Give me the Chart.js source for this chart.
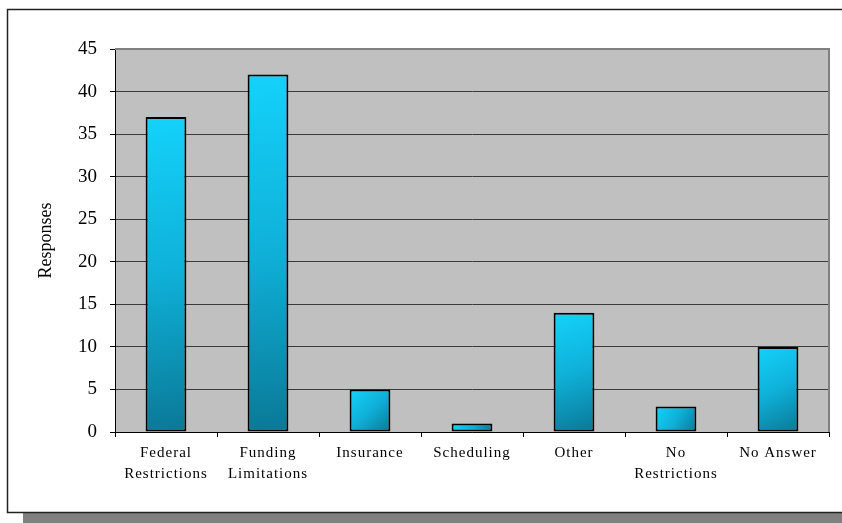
<!DOCTYPE html>
<html>
<head>
<meta charset="utf-8">
<script src="https://cdn.jsdelivr.net/npm/chart.js@4/dist/chart.umd.min.js"></script>
<style>
  html, body { margin: 0; padding: 0; background: #ffffff; }
  #wrap { width: 842px; height: 523px; }
</style>
</head>
<body>
<div id="wrap"><canvas id="c" width="842" height="523"></canvas></div>
<script>
// Survey responses by reason
const categories = [
  ['Federal', 'Restrictions'],
  ['Funding', 'Limitations'],
  'Insurance',
  'Scheduling',
  'Other',
  ['No', 'Restrictions'],
  'No Answer'
];
const responses = [37, 42, 5, 1, 14, 3, 10];
const yTicks = [0, 5, 10, 15, 20, 25, 30, 35, 40, 45];

const SERIF = '"Liberation Serif", "Times New Roman", serif';
const BAR_PCT = 0.40;

// diagonal cyan-to-teal fill for each bar
function barFill(ctx) {
  const chart = ctx.chart;
  const xs = chart.scales.x, ys = chart.scales.y;
  if (!chart.chartArea || !xs || !ys || ctx.type !== 'data') return '#10b8e0';
  const cx = xs.getPixelForValue(ctx.dataIndex);
  const half = (xs.width / categories.length) * BAR_PCT / 2;
  const top = ys.getPixelForValue(ctx.raw);
  const bottom = ys.getPixelForValue(0);
  const g = chart.ctx.createLinearGradient(cx - half, top, cx + half, bottom);
  g.addColorStop(0, '#14d2fb');
  g.addColorStop(0.5, '#0fb0d8');
  g.addColorStop(1, '#0a7896');
  return g;
}

// outer frame with drop shadow, plot-area fill and frame
const framePlugin = {
  id: 'frame',
  beforeDraw(chart) {
    const c = chart.ctx;
    c.save();
    c.fillStyle = '#ffffff';
    c.fillRect(0, 0, chart.width, chart.height);
    c.fillStyle = '#808080';
    c.fillRect(23, 513, chart.width - 23, 10);
    c.strokeStyle = '#222222';
    c.lineWidth = 1.5;
    c.strokeRect(7.5, 9.5, chart.width + 10, 503);
    const a = chart.chartArea;
    c.fillStyle = '#c0c0c0';
    c.fillRect(a.left, a.top, a.right - a.left, a.bottom - a.top);
    c.restore();
  },
  afterDatasetsDraw(chart) {
    const c = chart.ctx;
    const a = chart.chartArea;
    c.save();
    c.strokeStyle = '#808080';
    c.lineWidth = 2;
    c.beginPath();
    c.moveTo(a.left, a.top);
    c.lineTo(a.right, a.top);
    c.lineTo(a.right, a.bottom);
    c.stroke();
    c.restore();
    // category labels are drawn after this hook, spaced out a little
    c.letterSpacing = '1px';
  },
  afterDraw(chart) {
    chart.ctx.letterSpacing = '0px';
  }
};

new Chart(document.getElementById('c'), {
  type: 'bar',
  data: {
    labels: categories,
    datasets: [{
      data: responses,
      backgroundColor: barFill,
      borderColor: '#000000',
      borderWidth: 2,
      borderSkipped: false,
      barPercentage: BAR_PCT,
      categoryPercentage: 1.0
    }]
  },
  options: {
    responsive: false,
    animation: false,
    devicePixelRatio: 1,
    layout: { padding: { left: 0, top: 49, right: 13, bottom: 0 } },
    plugins: {
      legend: { display: false },
      tooltip: { enabled: false }
    },
    scales: {
      x: {
        afterFit(s) { s.height = 91; },
        grid: {
          display: true,
          drawOnChartArea: false,
          drawTicks: true,
          tickLength: 5,
          tickColor: '#000000',
          offset: true
        },
        border: { display: true, color: '#000000', width: 1 },
        ticks: {
          z: 1,
          color: '#000000',
          padding: 6,
          maxRotation: 0,
          autoSkip: false,
          font: { family: SERIF, size: 15, lineHeight: 1.4 }
        }
      },
      y: {
        min: 0,
        max: 45,
        afterFit(s) { s.width = 115; },
        afterBuildTicks(s) { s.ticks = yTicks.map(v => ({ value: v })); },
        grid: {
          color: '#3a3a3a',
          lineWidth: 1,
          drawTicks: true,
          tickLength: 5,
          tickColor: '#000000'
        },
        border: { display: true, color: '#000000', width: 1 },
        ticks: {
          color: '#000000',
          padding: 13,
          font: { family: SERIF, size: 19 }
        },
        title: {
          display: true,
          text: 'Responses',
          color: '#000000',
          padding: { top: 35, bottom: 0 },
          font: { family: SERIF, size: 18 }
        }
      }
    }
  },
  plugins: [framePlugin]
});
</script>
</body>
</html>
